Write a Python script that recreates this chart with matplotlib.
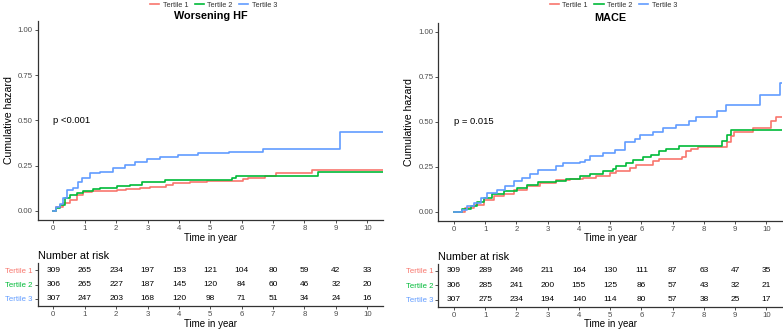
import matplotlib.pyplot as plt

plt.rcParams['font.family'] = ['Liberation Sans', 'DejaVu Sans']

groups = ["Tertile 1", "Tertile 2", "Tertile 3"]
colors = ["#F8766D", "#00BA38", "#619CFF"]
years = list(range(0, 11))

# Worsening HF - cumulative hazard steps (time, value)
whf_t1_time = [0, 0.1, 0.32, 0.53, 0.74, 0.95, 1.22, 2.02, 2.33, 2.76, 3.07, 3.6, 3.82,
               4.35, 4.88, 6.04, 6.2, 6.73, 7.1, 8.25]
whf_t1_haz = [0, 0.02, 0.042, 0.06, 0.088, 0.106, 0.112, 0.116, 0.121, 0.128, 0.134, 0.141,
              0.152, 0.16, 0.167, 0.176, 0.182, 0.193, 0.207, 0.226]
whf_t2_time = [0, 0.1, 0.21, 0.37, 0.53, 0.74, 0.95, 1.27, 1.49, 2.02, 2.44, 2.81, 3.55,
               4.45, 5.7, 5.83, 8.43]
whf_t2_haz = [0, 0.015, 0.033, 0.07, 0.088, 0.1, 0.112, 0.119, 0.128, 0.137, 0.143, 0.16,
              0.17, 0.172, 0.18, 0.193, 0.216]
whf_t3_time = [0, 0.1, 0.2, 0.32, 0.42, 0.64, 0.8, 0.9, 1.17, 1.49, 1.91, 2.28, 2.6, 2.97,
               3.39, 3.98, 4.61, 5.59, 6.68, 9.12]
whf_t3_haz = [0, 0.02, 0.04, 0.07, 0.115, 0.125, 0.16, 0.18, 0.207, 0.216, 0.235, 0.253,
              0.27, 0.284, 0.295, 0.308, 0.318, 0.326, 0.341, 0.433]

# MACE - cumulative hazard steps
mace_t1_time = [0, 0.36, 0.64, 0.95, 1.27, 1.59, 1.91, 2.33, 2.76, 3.28, 3.71, 4.13, 4.56,
                4.98, 5.2, 5.62, 5.83, 6.36, 6.57, 7.31, 7.42, 7.58, 7.8, 8.75, 8.86, 8.97,
                9.56, 10.14, 10.3]
mace_t1_haz = [0, 0.02, 0.04, 0.068, 0.086, 0.101, 0.123, 0.142, 0.157, 0.175, 0.183, 0.188,
               0.201, 0.216, 0.225, 0.244, 0.258, 0.28, 0.293, 0.305, 0.336, 0.349, 0.36,
               0.39, 0.419, 0.443, 0.465, 0.502, 0.526]
mace_t2_time = [0, 0.25, 0.53, 0.74, 0.95, 1.22, 1.59, 2.02, 2.33, 2.7, 3.28, 3.6, 4.03,
                4.35, 4.77, 5.09, 5.2, 5.51, 5.73, 6.04, 6.3, 6.57, 6.78, 7.2, 8.59, 8.75,
                8.86]
mace_t2_haz = [0, 0.016, 0.031, 0.053, 0.078, 0.096, 0.114, 0.133, 0.151, 0.164, 0.17, 0.183,
               0.197, 0.212, 0.225, 0.238, 0.253, 0.27, 0.286, 0.305, 0.317, 0.336, 0.349,
               0.367, 0.395, 0.428, 0.456]
mace_t3_time = [0, 0.25, 0.43, 0.64, 0.85, 1.06, 1.38, 1.64, 1.91, 2.17, 2.44, 2.7, 3.28,
                3.5, 4.03, 4.19, 4.35, 4.77, 5.14, 5.46, 5.78, 5.94, 6.36, 6.68, 7.1, 7.53,
                7.74, 8.43, 8.7, 9.81, 10.44]
mace_t3_haz = [0, 0.012, 0.031, 0.05, 0.078, 0.105, 0.12, 0.142, 0.17, 0.188, 0.207, 0.23,
               0.253, 0.271, 0.275, 0.29, 0.308, 0.327, 0.341, 0.39, 0.404, 0.424, 0.443,
               0.465, 0.483, 0.502, 0.529, 0.557, 0.594, 0.65, 0.714]

# numbers at risk
whf_risk = [
    [309, 265, 234, 197, 153, 121, 104, 80, 59, 42, 33],
    [306, 265, 227, 187, 145, 120, 84, 60, 46, 32, 20],
    [307, 247, 203, 168, 120, 98, 71, 51, 34, 24, 16],
]
mace_risk = [
    [309, 289, 246, 211, 164, 130, 111, 87, 63, 47, 35],
    [306, 285, 241, 200, 155, 125, 86, 57, 43, 32, 21],
    [307, 275, 234, 194, 140, 114, 80, 57, 38, 25, 17],
]

panels = [
    {
        "title": "Worsening HF",
        "pval": "p <0.001",
        "curves": [(whf_t1_time, whf_t1_haz), (whf_t2_time, whf_t2_haz), (whf_t3_time, whf_t3_haz)],
        "risk": whf_risk,
        "main_rect": [0.0481, 0.3313, 0.4410, 0.6058],
        "risk_rect": [0.0481, 0.0699, 0.4410, 0.1307],
    },
    {
        "title": "MACE",
        "pval": "p = 0.015",
        "curves": [(mace_t1_time, mace_t1_haz), (mace_t2_time, mace_t2_haz), (mace_t3_time, mace_t3_haz)],
        "risk": mace_risk,
        "main_rect": [0.5598, 0.3290, 0.4390, 0.6020],
        "risk_rect": [0.5598, 0.0678, 0.4390, 0.1307],
    },
]

axis_col = "#333333"
text_col = "#4D4D4D"
xmin, xmax = -0.5, 10.5

fig = plt.figure(figsize=(7.83, 3.29), dpi=100)

for p in panels:
    ax = fig.add_axes(p["main_rect"])
    for (t, h), c, g in zip(p["curves"], colors, groups):
        ax.step(t + [xmax], h + [h[-1]], where="post", color=c, lw=1.2, label=g)
    ax.set_xlim(xmin, xmax)
    ax.set_ylim(-0.05, 1.05)
    ax.set_xticks(years)
    ax.set_yticks([0, 0.25, 0.5, 0.75, 1.0])
    ax.set_yticklabels(["0.00", "0.25", "0.50", "0.75", "1.00"])
    ax.tick_params(labelsize=5.6, colors=axis_col, labelcolor=text_col, length=2, width=0.6, pad=1.5)
    for s in ["top", "right"]:
        ax.spines[s].set_visible(False)
    for s in ["left", "bottom"]:
        ax.spines[s].set_color(axis_col)
        ax.spines[s].set_linewidth(0.9)
    ax.set_ylabel("Cumulative hazard", fontsize=7.6, labelpad=3)
    ax.set_xlabel("Time in year", fontsize=7, labelpad=0.5)
    ax.set_title(p["title"], fontsize=7.8, fontweight="bold", pad=-1)
    ax.text(0, 0.5, p["pval"], fontsize=6.8, ha="left", va="center")

    handles, labels = ax.get_legend_handles_labels()
    cx = p["main_rect"][0] + p["main_rect"][2] / 2
    fig.legend(handles, labels, loc="upper center", bbox_to_anchor=(cx + 0.004, 1.015), ncol=3,
               frameon=False, fontsize=5.2, handlelength=1.3, columnspacing=0.9,
               handletextpad=0.45, labelcolor="#333333")

    rax = fig.add_axes(p["risk_rect"])
    rows = [3, 2, 1]
    for row, vals in zip(rows, p["risk"]):
        for x, v in zip(years, vals):
            rax.text(x, row, str(v), fontsize=6, ha="center", va="center")
    rax.set_xlim(xmin, xmax)
    rax.set_ylim(0.5, 3.5)
    rax.set_xticks(years)
    rax.set_yticks(rows)
    rax.set_yticklabels(groups)
    rax.tick_params(labelsize=5.6, colors=axis_col, labelcolor=text_col, length=2, width=0.6, pad=1.5)
    for lbl, c in zip(rax.get_yticklabels(), colors):
        lbl.set_color(c)
    for s in ["top", "right"]:
        rax.spines[s].set_visible(False)
    for s in ["left", "bottom"]:
        rax.spines[s].set_color(axis_col)
        rax.spines[s].set_linewidth(0.9)
    rax.set_xlabel("Time in year", fontsize=7, labelpad=0.5)
    rax.set_title("Number at risk", fontsize=7.8, loc="left", pad=3)

fig.savefig("out.png", dpi=100)
